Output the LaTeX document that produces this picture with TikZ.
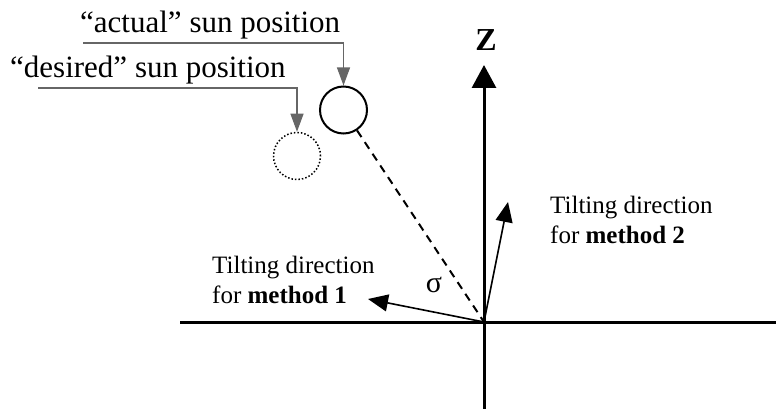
\documentclass[tikz,border=0pt]{standalone}
\usepackage{fontspec}
\setmainfont{Liberation Serif}
\usetikzlibrary{arrows.meta}
\begin{document}
\begin{tikzpicture}[x=1pt,y=-1pt,
  axis/.style={line width=3pt,black},
  tiltarrow/.style={line width=1.6pt,-{Triangle[length=20pt,width=17pt]}},
  leader/.style={line width=1.1pt,draw=black!50,-{Triangle[length=18pt,width=13pt]},color=black!60},
  biglbl/.style={anchor=base west,inner sep=0pt,font=\fontsize{31}{31}\selectfont},
  tiltlbl/.style={anchor=base west,inner sep=0pt,align=left,font=\fontsize{25}{30}\selectfont},
  sun/.style={circle,minimum size=47pt,inner sep=0pt}
]
\useasboundingbox (0,0) rectangle (776,409);
% axes
\coordinate (O) at (484,322);
\coordinate (xl) at (180,322);
\coordinate (xr) at (776,322);
\coordinate (zb) at (484,409);
\coordinate (zt) at (484,65);
\draw[axis] (xl) -- (xr);
\draw[axis,-{Triangle[length=23pt,width=24pt]}] (zb) -- (zt);
\node[inner sep=0pt,font=\fontsize{32}{32}\selectfont\bfseries] (Z) at (486,40) {Z};
% suns
\node[sun,draw,line width=2pt] (act) at (343.5,110) {};
\node[sun,draw,line width=1.5pt,dotted] (des) at (297,156) {};
\draw[line width=2pt,dash pattern=on 8pt off 6pt] (act) -- (O);
% labels with leaders
\node[biglbl] (actlbl) at (80,33) {“actual” sun position};
\node[biglbl] (deslbl) at (10,78) {“desired” sun position};
\coordinate (actstart) at (83,43);
\coordinate (desstart) at (38,88);
\draw[leader] (actstart) -| (act.north);
\draw[leader] (desstart) -| (des.north);
% tilting directions
\coordinate (t1) at (368,299);
\coordinate (t2) at (508,202);
\draw[tiltarrow] (O) -- (t1);
\draw[tiltarrow] (O) -- (t2);
\node[tiltlbl] (m1) at (212,303) {Tilting direction\\for \textbf{method 1}};
\node[tiltlbl] (m2) at (550,243) {Tilting direction\\for \textbf{method 2}};
\node[inner sep=0pt,font=\fontsize{30}{30}\selectfont] (sigma) at (434,285) {σ};
\end{tikzpicture}
\end{document}
